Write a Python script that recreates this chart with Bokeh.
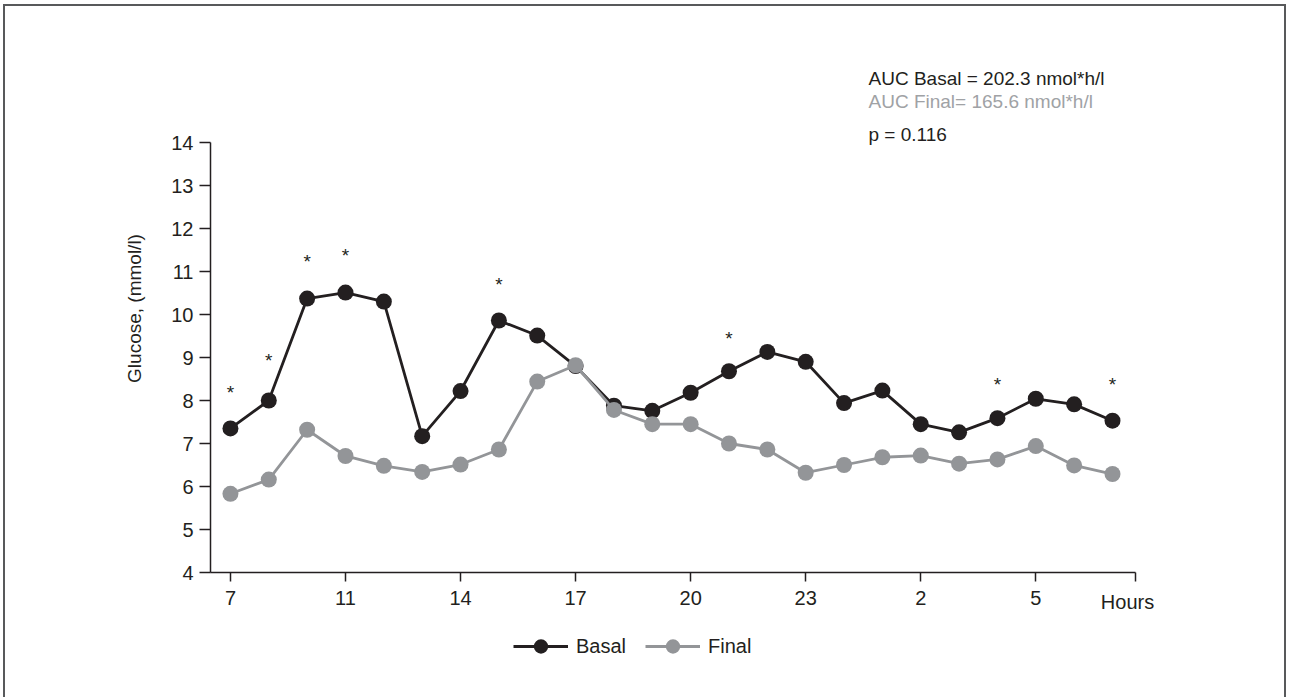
import math
from bokeh.plotting import figure
from bokeh.models import Legend, LegendItem, Label, FixedTicker
from bokeh.embed import file_html
from bokeh.resources import INLINE
from bokeh.core.properties import value

# ---- data ----
hour_index = list(range(24))
tick_index = [0, 3, 6, 9, 12, 15, 18, 21]
tick_labels = ["7", "11", "14", "17", "20", "23", "2", "5"]
end_label = "Hours"
basal = [7.35, 8.00, 10.37, 10.51, 10.30, 7.17, 8.22, 9.86, 9.51, 8.80, 7.88, 7.76,
         8.18, 8.68, 9.13, 8.90, 7.94, 8.23, 7.45, 7.26, 7.59, 8.04, 7.91, 7.53]
final = [5.83, 6.16, 7.32, 6.71, 6.48, 6.34, 6.51, 6.86, 8.44, 8.82, 7.78, 7.45,
         7.45, 7.00, 6.86, 6.32, 6.50, 6.68, 6.72, 6.53, 6.63, 6.94, 6.49, 6.29]
star_index = [0, 1, 2, 3, 7, 13, 20, 23]
star_level = [8.27, 9.02, 11.33, 11.47, 10.79, 9.53, 8.46, 8.46]
y_ticks = list(range(4, 15))
auc_basal_text = "AUC Basal = 202.3 nmol*h/l"
auc_final_text = "AUC Final= 165.6 nmol*h/l"
p_text = "p = 0.116"
y_title = "Glucose, (mmol/l)"

FONT = "Liberation Sans"
BLACK = "#231f20"
GRAY = "#939598"
FS = "20px"
FS_NOTE = "19px"

# axis extents (data) and page geometry (pixels)
AX0, AX1 = -0.52, 23.6     # x axis span
AY0, AY1 = 4, 14           # y axis span
PAGE_X0, PAGE_Y0 = 5, 6    # canvas origin on page (after css border)
W, H = 1283, 693
MB_LEFT, MB_BOTTOM = 80, 42
AXIS_LEFT_PX, AXIS_RIGHT_PX = 210, 1135
AXIS_TOP_PX, AXIS_BOTTOM_PX = 142, 572
X_TICK_OUT, X_STANDOFF = 9, 9

fx0 = PAGE_X0 + MB_LEFT
fx1 = PAGE_X0 + W
fy0 = PAGE_Y0
fy1 = PAGE_Y0 + H - MB_BOTTOM
kx = (AXIS_RIGHT_PX - AXIS_LEFT_PX) / (AX1 - AX0)
ky = (AXIS_BOTTOM_PX - AXIS_TOP_PX) / (AY1 - AY0)
x_start = AX0 - (AXIS_LEFT_PX - fx0) / kx
x_end = AX0 + (fx1 - AXIS_LEFT_PX) / kx
y_start = AY0 - (fy1 - AXIS_BOTTOM_PX) / ky
y_end = AY0 + (AXIS_BOTTOM_PX - fy0) / ky

def xd(px):
    return AX0 + (px - AXIS_LEFT_PX) / kx

def yd(py):
    return AY0 + (AXIS_BOTTOM_PX - py) / ky

p = figure(width=W, height=H, x_range=(x_start, x_end), y_range=(y_start, y_end),
           output_backend="svg", toolbar_location=None,
           min_border_left=MB_LEFT, min_border_right=0,
           min_border_top=0, min_border_bottom=MB_BOTTOM)
p.styles = {"margin-left": "3px", "margin-top": "4px",
            "border-left": "2px solid #58595b", "border-top": "2px solid #58595b",
            "border-right": "2px solid #58595b"}
p.xgrid.visible = False
p.ygrid.visible = False
p.outline_line_color = None
p.background_fill_color = "white"
p.border_fill_color = "white"

# axes
xt = tick_index + [AX1]
p.xaxis.ticker = FixedTicker(ticks=xt)
p.xaxis.major_label_overrides = {t: l for t, l in zip(xt, tick_labels + [""])}
p.xaxis.bounds = (AX0, AX1)
p.xaxis.fixed_location = AY0
p.yaxis.ticker = FixedTicker(ticks=y_ticks)
p.yaxis.bounds = (AY0, AY1)
p.yaxis.fixed_location = AX0
for ax in (p.xaxis[0], p.yaxis[0]):
    ax.axis_line_color = BLACK
    ax.axis_line_width = 1.5
    ax.major_tick_line_color = BLACK
    ax.major_tick_line_width = 1.5
    ax.major_tick_in = 0
    ax.minor_tick_line_color = None
    ax.major_label_text_font = FONT
    ax.major_label_text_font_size = FS
    ax.major_label_text_color = BLACK
p.xaxis.major_tick_out = X_TICK_OUT
p.xaxis.major_label_standoff = X_STANDOFF
p.yaxis.major_tick_out = 11
p.yaxis.major_label_standoff = 6

# series
bl = p.line(hour_index, basal, line_color=BLACK, line_width=2.8)
bs = p.scatter(hour_index, basal, size=16, fill_color=BLACK, line_color=None)
fl = p.line(hour_index, final, line_color=GRAY, line_width=2.8)
fs = p.scatter(hour_index, final, size=16, fill_color=GRAY, line_color=None)

# significance stars
p.text(x=star_index, y=star_level, text=["*"] * len(star_index),
       text_font=value(FONT), text_font_size="19px", text_color=BLACK,
       text_align="center", text_baseline="middle", y_offset=4)

# annotations
p.add_layout(Label(x=xd(1127), y=yd(AXIS_BOTTOM_PX + X_TICK_OUT + X_STANDOFF),
                   text=end_label, text_font=FONT, text_font_size=FS,
                   text_color=BLACK, text_align="center", text_baseline="top"))
p.add_layout(Label(x=xd(868), y=yd(78), text=auc_basal_text, text_font=FONT,
                   text_font_size=FS_NOTE, text_color=BLACK, text_baseline="middle"))
p.add_layout(Label(x=xd(868), y=yd(101), text=auc_final_text, text_font=FONT,
                   text_font_size=FS_NOTE, text_color="#a0a2a5", text_baseline="middle"))
p.add_layout(Label(x=xd(868), y=yd(134), text=p_text, text_font=FONT,
                   text_font_size=FS_NOTE, text_color=BLACK, text_baseline="middle"))
p.add_layout(Label(x=xd(134), y=yd(308), text=y_title, angle=math.pi / 2,
                   text_font=FONT, text_font_size=FS_NOTE, text_color=BLACK,
                   text_align="center", text_baseline="middle"))

LEG_H = 36
legend = Legend(items=[LegendItem(label="Basal", renderers=[bl, bs]),
                       LegendItem(label="Final", renderers=[fl, fs])],
                orientation="horizontal",
                location=(513 - fx0, fy1 - (646 + LEG_H / 2)),
                glyph_width=55, glyph_height=LEG_H, label_standoff=8, spacing=19,
                padding=0, margin=0, border_line_color=None,
                background_fill_alpha=0,
                label_text_font=FONT, label_text_font_size=FS,
                label_text_color=BLACK)
p.add_layout(legend, "center")

open("out.html", "w").write(file_html(p, INLINE))
